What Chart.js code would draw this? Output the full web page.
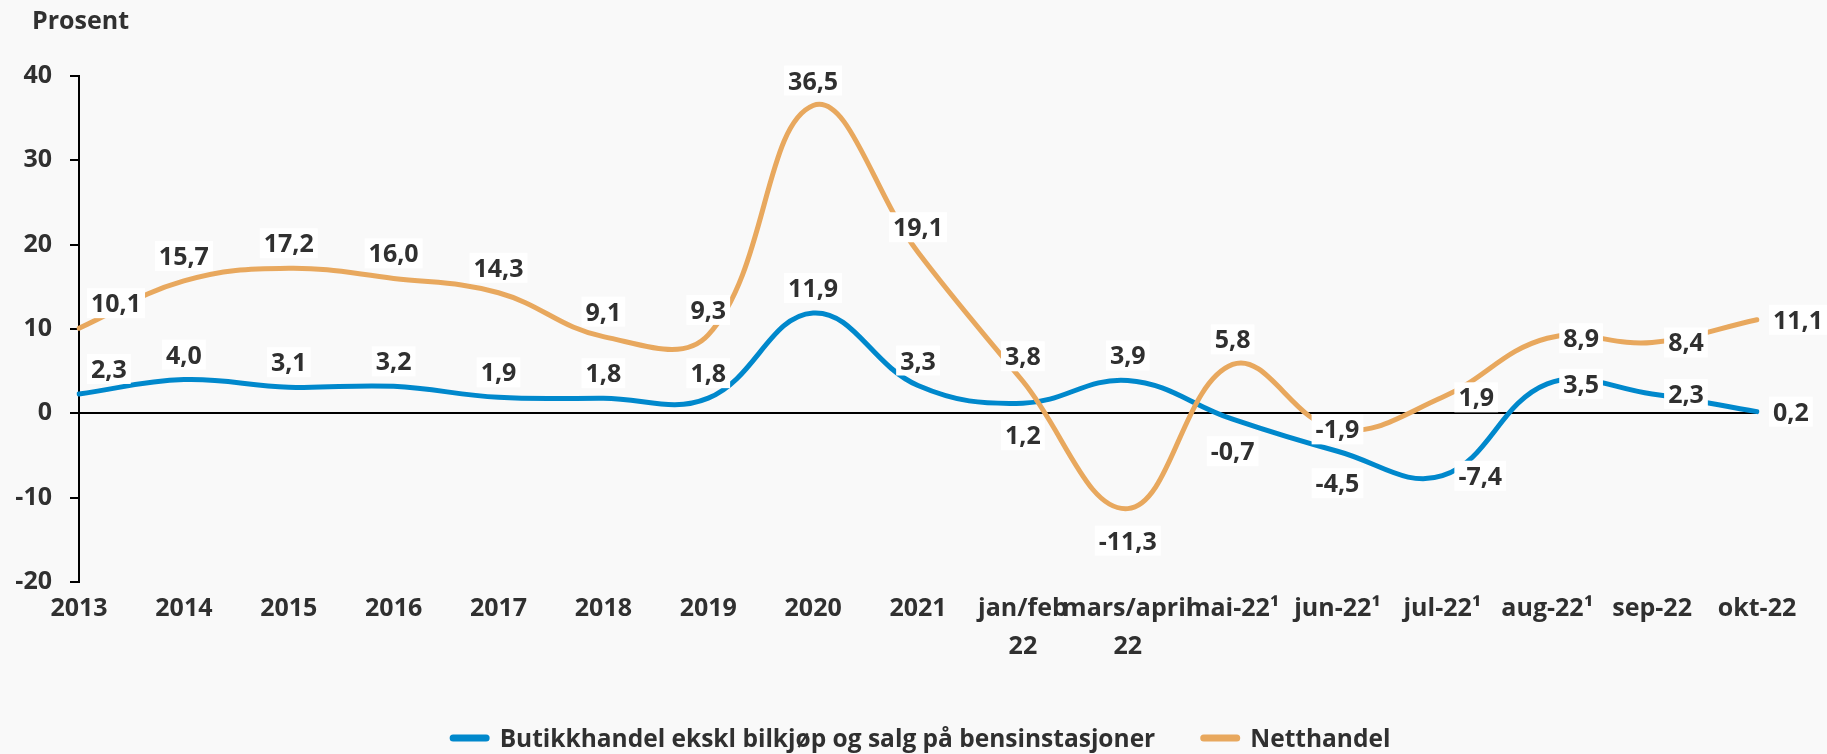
<!DOCTYPE html>
<html lang="no">
<head>
<meta charset="utf-8">
<title>Butikkhandel og netthandel</title>
<script src="https://cdn.jsdelivr.net/npm/chart.js@4"></script>
<style>
  html, body { margin: 0; padding: 0; background: #f9f9f9; }
  #wrap { position: relative; width: 1827px; height: 754px; }
</style>
</head>
<body>
<div id="wrap"><canvas id="myChart"></canvas></div>
<script>
// KATEGORIER OG VERDIER
const categories = [
  "2013", "2014", "2015", "2016", "2017", "2018", "2019", "2020", "2021",
  ["jan/feb", "22"], ["mars/april", "22"],
  "mai-22¹", "jun-22¹", "jul-22¹", "aug-22¹", "sep-22", "okt-22",
];
const butikkValues = [2.3, 4.0, 3.1, 3.2, 1.9, 1.8, 1.8, 11.9, 3.3, 1.2, 3.9, -0.7, -4.5, -7.4, 3.5, 2.3, 0.2];
const nettValues = [10.1, 15.7, 17.2, 16.0, 14.3, 9.1, 9.3, 36.5, 19.1, 3.8, -11.3, 5.8, -1.9, 1.9, 8.9, 8.4, 11.1];
const seriesNames = ["Butikkhandel ekskl bilkjøp og salg på bensinstasjoner", "Netthandel"];
const yTicks = [-20, -10, 0, 10, 20, 30, 40];
const yTitle = "Prosent";

// hvor tallet står i forhold til punktet
const butikkLabelPos = ["above", "above", "above", "above", "above", "above", "above", "above", "above",
  "below", "above", "below", "below", "right", "right", "right", "right"];
const nettLabelPos = ["above", "above", "above", "above", "above", "above", "above", "above", "above",
  "above", "below", "above", "center", "right", "right", "right", "right"];

const FONT = "'Open Sans', 'Noto Sans', sans-serif";
const TEXT_COLOR = "#303030";
const BLUE = "#0088cc";
const ORANGE = "#e8a85e";

Chart.defaults.font.family = FONT;
Chart.defaults.color = TEXT_COLOR;

// bakgrunn
const background = {
  id: "background",
  beforeDraw(chart) {
    const ctx = chart.ctx;
    ctx.save();
    ctx.fillStyle = "#f9f9f9";
    ctx.fillRect(0, 0, chart.width, chart.height);
    ctx.restore();
  },
};

// TALLETIKETTER PÅ LINJENE
const valueLabels = {
  id: "valueLabels",
  afterDatasetsDraw(chart) {
    const ctx = chart.ctx;
    const area = chart.chartArea;
    ctx.save();
    ctx.font = "bold 25px " + FONT;
    ctx.textAlign = "left";
    ctx.textBaseline = "alphabetic";
    chart.data.datasets.forEach((ds, di) => {
      const meta = chart.getDatasetMeta(di);
      meta.data.forEach((pt, i) => {
        const txt = ds.data[i].toFixed(1).replace(".", ",");
        const w = ctx.measureText(txt).width;
        const pos = ds.labelPos[i];
        let cx = pt.x;
        let cy = pt.y;
        if (pos === "above") cy = pt.y - 25;
        else if (pos === "below") cy = pt.y + 32;
        else if (pos === "right") cx = pt.x + 16 + w / 2;
        let left = cx - w / 2;
        if (left < area.left + 12) left = area.left + 12;
        ctx.fillStyle = "#ffffff";
        ctx.fillRect(left - 4, cy - 15, w + 8, 30);
        ctx.fillStyle = TEXT_COLOR;
        ctx.fillText(txt, left, cy + 9);
      });
    });
    ctx.restore();
  },
};

// AKSETITTEL OG FORKLARING
const titleAndLegend = {
  id: "titleAndLegend",
  afterDraw(chart) {
    const ctx = chart.ctx;
    ctx.save();
    ctx.fillStyle = TEXT_COLOR;
    ctx.textBaseline = "alphabetic";
    ctx.font = "bold 25px " + FONT;
    ctx.fillText(yTitle, 32, 29);

    ctx.font = "bold 24.5px " + FONT;
    const colors = [BLUE, ORANGE];
    const markW = 40;
    const widths = seriesNames.map((n) => ctx.measureText(n).width);
    const total = markW + 10 + widths[0] + 45 + markW + 10 + widths[1];
    let x = 920 - total / 2;
    const y = 738;
    seriesNames.forEach((name, i) => {
      ctx.strokeStyle = colors[i];
      ctx.lineWidth = 7;
      ctx.lineCap = "round";
      ctx.beginPath();
      ctx.moveTo(x + 3.5, y);
      ctx.lineTo(x + markW - 3.5, y);
      ctx.stroke();
      x += markW + 10;
      ctx.fillText(name, x, y + 9);
      x += widths[i] + 45;
    });
    ctx.restore();
  },
};

const ctx = document.getElementById("myChart");
const myChart = new Chart(ctx, {
  type: "line",
  data: {
    labels: categories,
    datasets: [
      {
        label: seriesNames[0],
        data: butikkValues,
        labelPos: butikkLabelPos,
        borderColor: BLUE,
        backgroundColor: BLUE,
        borderWidth: 5,
        pointRadius: 0,
        tension: 0.4,
        borderCapStyle: "round",
        borderJoinStyle: "round",
        order: 1,
      },
      {
        label: seriesNames[1],
        data: nettValues,
        labelPos: nettLabelPos,
        borderColor: ORANGE,
        backgroundColor: ORANGE,
        borderWidth: 5,
        pointRadius: 0,
        tension: 0.4,
        borderCapStyle: "round",
        borderJoinStyle: "round",
        order: 0,
      },
    ],
  },
  options: {
    responsive: true,
    maintainAspectRatio: false,
    devicePixelRatio: 1,
    animation: false,
    events: [],
    layout: { padding: { top: 76, left: 0, right: 70, bottom: 72 } },
    plugins: {
      legend: { display: false },
      title: { display: false },
      tooltip: { enabled: false },
    },
    scales: {
      x: {
        type: "category",
        offset: false,
        border: { display: false },
        grid: { display: false, drawTicks: false },
        ticks: {
          autoSkip: false,
          maxRotation: 0,
          minRotation: 0,
          padding: 7,
          color: TEXT_COLOR,
          font: { size: 25, weight: "bold", lineHeight: 1.55 },
        },
        afterFit(axis) {
          axis.height = 100;
        },
      },
      y: {
        min: -20,
        max: 40,
        border: { display: true, color: "#000000", width: 2 },
        grid: {
          drawOnChartArea: true,
          drawTicks: true,
          tickLength: 9,
          tickColor: "#000000",
          tickWidth: 2,
          lineWidth: 2,
          color: (c) => (c.tick && c.tick.value === 0 ? "#000000" : "rgba(0,0,0,0)"),
        },
        ticks: {
          padding: 18,
          color: TEXT_COLOR,
          font: { size: 25, weight: "bold" },
        },
        afterBuildTicks(axis) {
          axis.ticks = yTicks.map((v) => ({ value: v }));
        },
        afterFit(axis) {
          axis.width = 79;
        },
      },
    },
  },
  plugins: [background, valueLabels, titleAndLegend],
});
</script>
</body>
</html>
